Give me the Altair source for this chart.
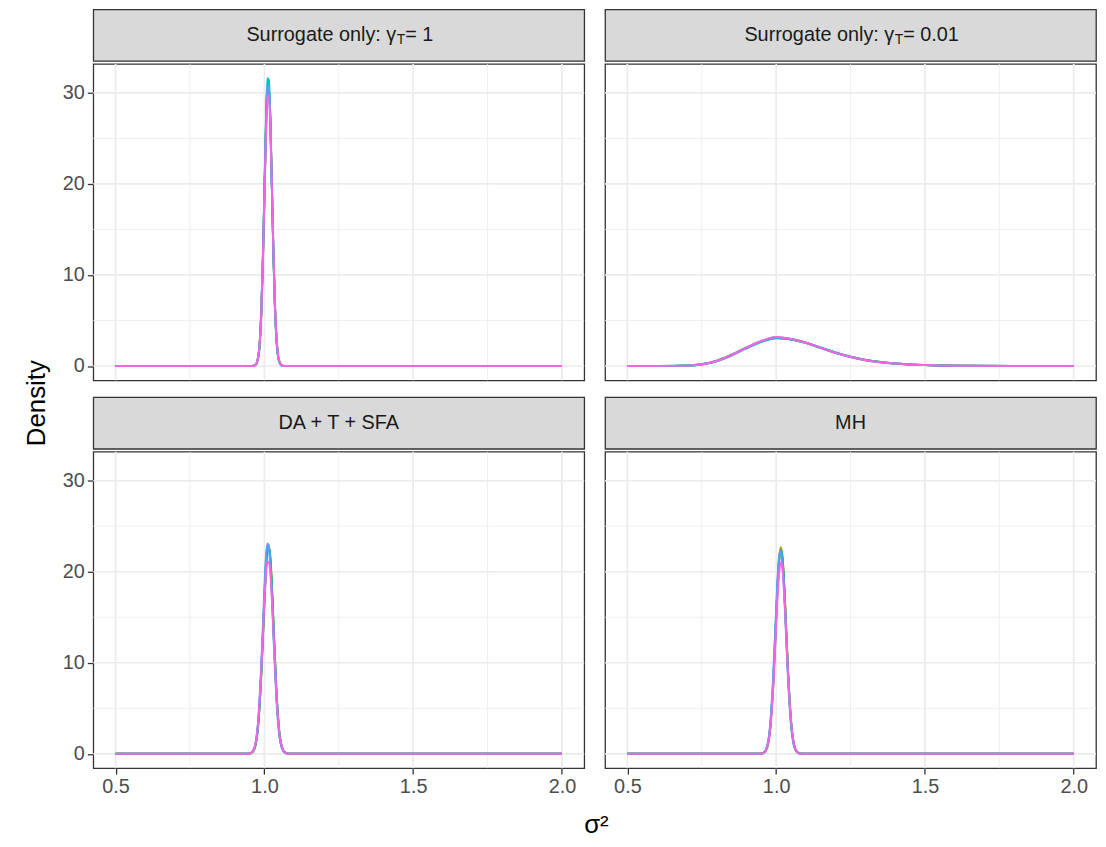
import altair as alt
import pandas as pd

# ---------------- data ----------------
series_names = ["chain 1", "chain 2", "chain 3", "chain 4", "chain 5", "chain 6"]
series_colors = ["#F8766D", "#B79F00", "#00BA38", "#00BFC4", "#619CFF", "#F564E3"]

strip_pre = ["Surrogate only: γ", "Surrogate only: γ", "DA + T + SFA", "MH"]
strip_sub = ["T", "T", "", ""]
strip_post = ["= 1", "= 0.01", "", ""]

# panel 1: Surrogate only, gamma_T = 1
x_p1 = [0.5, 0.95, 0.96, 0.97, 0.98, 0.985, 0.99, 0.995, 1.0, 1.005, 1.01, 1.015,
        1.02, 1.025, 1.03, 1.035, 1.04, 1.045, 1.05, 1.06, 1.07, 1.08, 2.0]
y_p1 = [
    [0, 0, 0.01, 0.12, 1.2, 2.9, 6.3, 11.7, 18.6, 25.5, 30.1, 30.6, 26.8, 20.1, 13.0, 7.2, 3.5, 1.4, 0.5, 0.04, 0, 0, 0],
    [0, 0, 0.01, 0.10, 1.0, 2.7, 6.0, 11.4, 18.4, 25.6, 30.5, 31.0, 27.1, 20.3, 13.0, 7.1, 3.4, 1.3, 0.5, 0.03, 0, 0, 0],
    [0, 0, 0.01, 0.11, 1.1, 2.8, 6.2, 11.7, 18.8, 25.9, 30.6, 30.9, 26.9, 20.0, 12.8, 7.0, 3.3, 1.3, 0.5, 0.04, 0, 0, 0],
    [0, 0, 0.01, 0.12, 1.2, 3.0, 6.6, 12.2, 19.4, 26.6, 31.6, 31.4, 27.0, 19.8, 12.5, 6.8, 3.2, 1.3, 0.4, 0.03, 0, 0, 0],
    [0, 0, 0.01, 0.11, 1.1, 2.8, 6.3, 11.8, 18.9, 26.0, 30.7, 30.8, 26.8, 19.9, 12.8, 7.0, 3.3, 1.3, 0.5, 0.04, 0, 0, 0],
    [0, 0, 0.01, 0.12, 1.2, 2.9, 6.3, 11.6, 18.3, 24.9, 29.3, 29.8, 26.4, 20.1, 13.2, 7.4, 3.6, 1.5, 0.6, 0.05, 0, 0, 0],
]

# panel 2: Surrogate only, gamma_T = 0.01
x_p2 = [0.5, 0.6, 0.7, 0.75, 0.8, 0.85, 0.9, 0.95, 1.0, 1.05, 1.1, 1.15, 1.2, 1.25,
        1.3, 1.35, 1.4, 1.45, 1.5, 1.6, 1.8, 2.0]
y_p2 = [
    [0, 0, 0.04, 0.17, 0.53, 1.17, 1.97, 2.68, 3.10, 2.96, 2.57, 2.02, 1.47, 1.01, 0.66, 0.43, 0.28, 0.17, 0.10, 0.03, 0, 0],
    [0, 0, 0.04, 0.18, 0.56, 1.22, 2.02, 2.71, 3.12, 2.94, 2.54, 1.99, 1.44, 0.99, 0.65, 0.42, 0.27, 0.17, 0.10, 0.03, 0, 0],
    [0, 0, 0.05, 0.20, 0.58, 1.24, 2.03, 2.70, 3.08, 2.90, 2.52, 1.99, 1.46, 1.01, 0.66, 0.43, 0.28, 0.17, 0.10, 0.03, 0, 0],
    [0, 0, 0.04, 0.17, 0.52, 1.15, 1.94, 2.64, 3.05, 2.93, 2.56, 2.03, 1.49, 1.03, 0.67, 0.44, 0.28, 0.17, 0.10, 0.03, 0, 0],
    [0, 0, 0.04, 0.18, 0.55, 1.20, 2.00, 2.72, 3.16, 2.97, 2.55, 1.98, 1.43, 0.98, 0.64, 0.42, 0.27, 0.16, 0.10, 0.03, 0, 0],
    [0, 0, 0.04, 0.18, 0.55, 1.21, 2.02, 2.74, 3.18, 2.98, 2.56, 1.99, 1.44, 0.99, 0.64, 0.42, 0.27, 0.16, 0.10, 0.03, 0, 0],
]

# panels 3 and 4: DA + T + SFA, MH
x_p3 = [0.5, 0.94, 0.95, 0.96, 0.97, 0.98, 0.99, 1.0, 1.005, 1.01, 1.015, 1.02, 1.025,
        1.03, 1.04, 1.05, 1.06, 1.07, 1.08, 1.09, 2.0]
y_p3 = [
    [0, 0, 0.03, 0.20, 1.00, 3.6, 9.3, 17.0, 20.6, 22.8, 23.0, 21.4, 18.3, 14.3, 6.9, 2.3, 0.60, 0.10, 0.01, 0, 0],
    [0, 0, 0.03, 0.20, 0.95, 3.5, 9.1, 16.8, 20.3, 22.4, 22.7, 21.3, 18.4, 14.5, 7.0, 2.4, 0.60, 0.10, 0.01, 0, 0],
    [0, 0, 0.02, 0.18, 0.90, 3.4, 8.9, 16.5, 20.1, 22.3, 22.8, 21.6, 18.8, 15.0, 7.3, 2.5, 0.65, 0.12, 0.01, 0, 0],
    [0, 0, 0.03, 0.21, 1.00, 3.7, 9.5, 17.3, 20.8, 22.8, 22.8, 21.1, 18.0, 14.1, 6.7, 2.2, 0.56, 0.10, 0.01, 0, 0],
    [0, 0, 0.04, 0.25, 1.10, 4.0, 10.1, 18.1, 21.5, 23.1, 22.6, 20.6, 17.3, 13.4, 6.3, 2.1, 0.50, 0.09, 0.01, 0, 0],
    [0, 0, 0.04, 0.24, 1.10, 3.8, 9.5, 16.6, 19.6, 21.0, 21.1, 19.9, 17.3, 13.9, 6.9, 2.4, 0.63, 0.12, 0.02, 0, 0],
]
x_p4 = x_p3
y_p4 = [
    [0, 0, 0.02, 0.15, 0.75, 2.8, 7.6, 14.9, 18.5, 21.1, 22.3, 21.8, 19.8, 16.5, 9.0, 3.6, 1.00, 0.20, 0.03, 0, 0],
    [0, 0, 0.02, 0.14, 0.72, 2.8, 7.5, 14.8, 18.6, 21.4, 22.7, 22.1, 19.9, 16.5, 8.9, 3.5, 1.00, 0.20, 0.03, 0, 0],
    [0, 0, 0.02, 0.15, 0.76, 2.9, 7.7, 15.0, 18.6, 21.2, 22.4, 21.8, 19.7, 16.4, 9.0, 3.6, 1.00, 0.21, 0.03, 0, 0],
    [0, 0, 0.02, 0.16, 0.80, 3.0, 7.9, 15.3, 18.9, 21.4, 22.4, 21.6, 19.4, 16.1, 8.7, 3.4, 0.95, 0.20, 0.03, 0, 0],
    [0, 0, 0.03, 0.19, 0.90, 3.3, 8.5, 16.0, 19.5, 21.8, 22.3, 21.3, 18.9, 15.5, 8.2, 3.1, 0.85, 0.18, 0.02, 0, 0],
    [0, 0, 0.02, 0.14, 0.72, 2.7, 7.2, 14.0, 17.4, 19.8, 21.0, 20.6, 18.7, 15.7, 8.7, 3.6, 1.05, 0.23, 0.04, 0, 0],
]

x_major = [0.5, 1.0, 1.5, 2.0]
x_minor = [0.75, 1.25, 1.75]
y_major = [0, 10, 20, 30]
y_minor = [5, 15, 25]

# ---------------- build tables ----------------
rows = []
for pid, (xs, ys) in enumerate([(x_p1, y_p1), (x_p2, y_p2), (x_p3, y_p3), (x_p4, y_p4)]):
    for s, yl in zip(series_names, ys):
        for i, (xv, yv) in enumerate(zip(xs, yl)):
            rows.append({"panel": pid, "series": s, "order": i, "x": xv, "y": yv})
df = pd.DataFrame(rows)
df_xminor = pd.DataFrame({"x": x_minor})
df_yminor = pd.DataFrame({"y": y_minor})
df_xmajor = pd.DataFrame({"x": x_major})
df_ymajor = pd.DataFrame({"y": y_major})

# ---------------- styling ----------------
FONT = "Liberation Sans"
W = 495
H = 319
SH = 52
X_DOMAIN = [0.425, 2.075]
Y_DOMAIN = [-1.58, 33.18]
GRID = "#EBEBEB"
DARK = "#333333"

sx = alt.Scale(domain=X_DOMAIN, nice=False, zero=False)
sy = alt.Scale(domain=Y_DOMAIN, nice=False, zero=False)


def panel_plot(pid, show_x, show_y):
    if show_x:
        ax = alt.Axis(values=x_major, format=".1f", title=None, grid=False, domain=False)
    else:
        ax = None
    if show_y:
        ay = alt.Axis(values=y_major, format="d", title=None, grid=False, domain=False)
    else:
        ay = None
    xe = alt.X("x:Q", scale=sx, axis=ax)
    ye = alt.Y("y:Q", scale=sy, axis=ay)
    minor_x = alt.Chart(df_xminor).mark_rule(color=GRID, strokeWidth=0.8).encode(x=xe)
    minor_y = alt.Chart(df_yminor).mark_rule(color=GRID, strokeWidth=0.8).encode(y=ye)
    major_x = alt.Chart(df_xmajor).mark_rule(color=GRID, strokeWidth=1.7).encode(x=xe)
    major_y = alt.Chart(df_ymajor).mark_rule(color=GRID, strokeWidth=1.7).encode(y=ye)
    lines = alt.Chart(df[df.panel == pid]).mark_line(
        strokeWidth=2, interpolate="monotone"
    ).encode(
        x=xe,
        y=ye,
        color=alt.Color("series:N", scale=alt.Scale(domain=series_names, range=series_colors), legend=None),
        order=alt.Order("order:Q"),
    )
    return alt.layer(minor_x, minor_y, major_x, major_y, lines).properties(width=W, height=H)


def strip(pid):
    base = alt.Chart(pd.DataFrame({"pre": [strip_pre[pid]], "sub": [strip_sub[pid]], "post": [strip_post[pid]]}))
    if strip_sub[pid]:
        total = 153 + 8.6 + (28.4 if strip_post[pid] == "= 1" else 56.2)
        x0 = W / 2 - total / 2 + 153
        t1 = base.mark_text(font=FONT, fontSize=20, color="#1A1A1A", align="right", baseline="middle").encode(
            text="pre:N", x=alt.value(x0), y=alt.value(SH / 2))
        t2 = base.mark_text(font=FONT, fontSize=14, color="#1A1A1A", align="left", baseline="middle").encode(
            text="sub:N", x=alt.value(x0 + 0.5), y=alt.value(SH / 2 + 5))
        t3 = base.mark_text(font=FONT, fontSize=20, color="#1A1A1A", align="left", baseline="middle").encode(
            text="post:N", x=alt.value(x0 + 9), y=alt.value(SH / 2))
        ch = alt.layer(t1, t2, t3)
    else:
        ch = base.mark_text(font=FONT, fontSize=20, color="#1A1A1A", align="center", baseline="middle").encode(
            text="pre:N", x=alt.value(W / 2), y=alt.value(SH / 2))
    return ch.properties(width=W, height=SH,
                         view=alt.ViewBackground(fill="#D9D9D9", stroke=DARK, strokeWidth=1.3))


def panel(pid, show_x, show_y):
    return alt.vconcat(strip(pid), panel_plot(pid, show_x, show_y), spacing=0)


row1 = alt.hconcat(panel(0, False, True), panel(1, False, False), spacing=17)
row2 = alt.hconcat(panel(2, True, True), panel(3, True, False), spacing=17)

grid = alt.vconcat(row1, row2, spacing=14).properties(
    title=alt.TitleParams("Density", orient="left", anchor="middle", font=FONT, fontSize=26,
                          fontWeight="normal", color="black", offset=12)
)

chart = alt.vconcat(grid).properties(
    title=alt.TitleParams("σ²", orient="bottom", anchor="middle", font=FONT, fontSize=26,
                          fontWeight="normal", color="black", offset=15, dx=36),
    padding={"left": 16, "top": -3, "right": 0, "bottom": 0},
).configure_view(
    stroke=DARK, strokeWidth=1.3
).configure_axis(
    labelFont=FONT, labelFontSize=20, labelColor="#4D4D4D",
    tickColor=DARK, tickWidth=1.3, tickSize=6, labelPadding=3,
)

chart.save("out.html", embed_options={"renderer": "svg", "actions": False})
